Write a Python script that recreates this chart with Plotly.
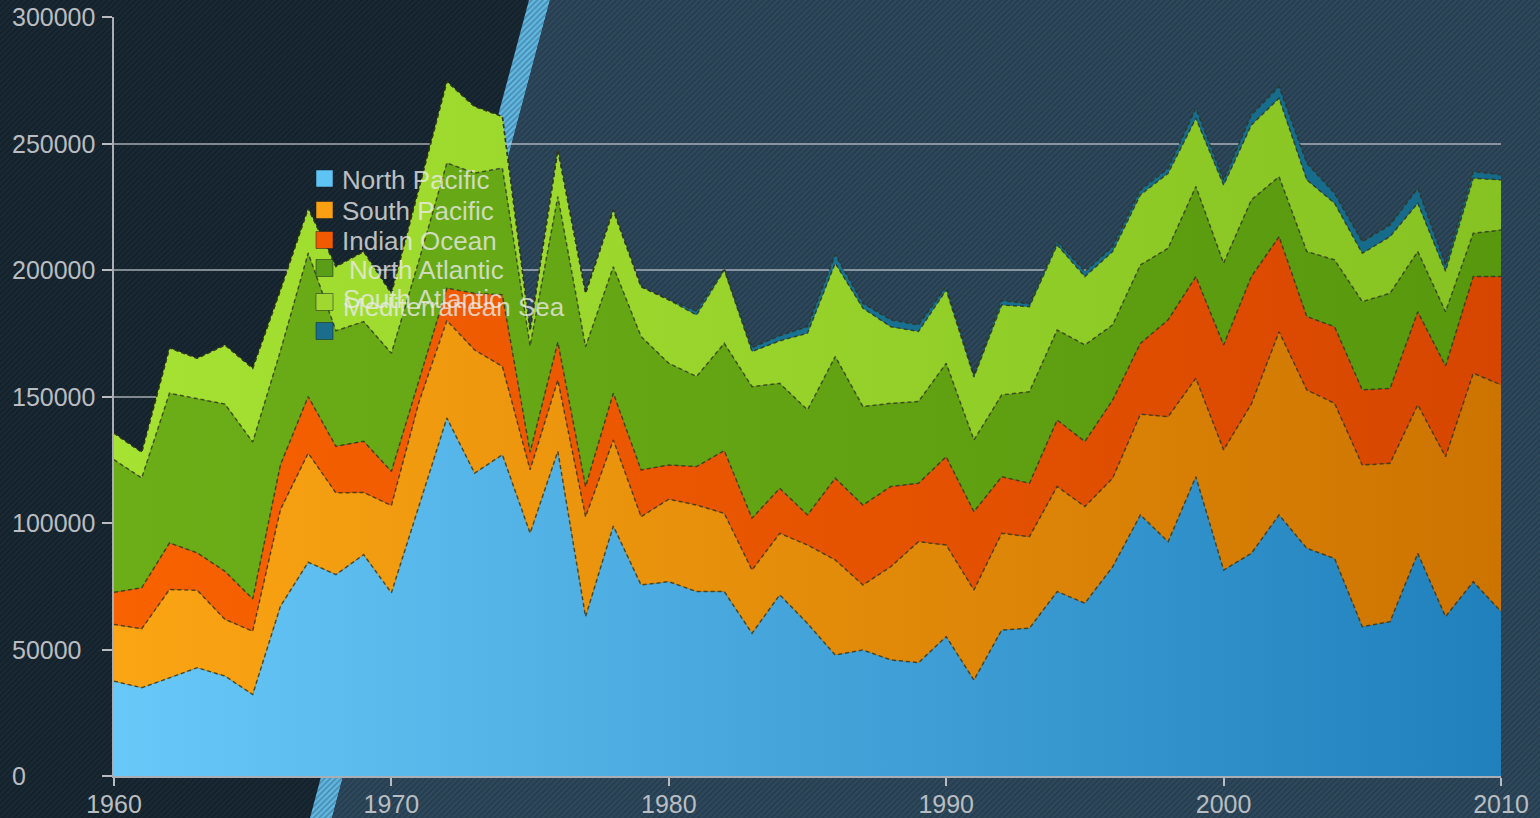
import plotly.graph_objects as go

W, H = 1540, 818

years = list(range(1960, 2011))

north_pacific = [37500, 34900, 38800, 42800, 39500, 32200, 67100, 84500, 79600, 87500,
                 72400, 107000, 141500, 119700, 127000, 96000, 128300, 63000, 98800, 75500,
                 76800, 72900, 72900, 56400, 71600, 60300, 47800, 49800, 45900, 44800,
                 55100, 37900, 57700, 58400, 72900, 68300, 82700, 103200, 92600, 118300,
                 81400, 88000, 103200, 90000, 86000, 59000, 61000, 88000, 63000, 76800,
                 65000]
south_pacific = [22400, 23300, 34900, 30600, 22400, 25000, 38200, 43100, 32300, 24600,
                 34500, 41000, 38500, 48700, 34900, 25000, 28200, 39500, 34000, 27000,
                 32600, 34200, 30900, 25000, 24300, 31000, 37600, 25700, 36800, 47800,
                 36200, 35600, 38200, 36200, 41500, 38200, 35000, 39800, 49400, 38900,
                 47500, 59000, 72400, 62600, 61300, 63900, 62600, 58700, 63200, 82400,
                 89600]
indian_ocean = [12700, 16200, 18400, 14800, 19000, 12800, 17700, 22400, 18400, 20200,
                13500, 9000, 12800, 22400, 28300, 7000, 15000, 11900, 18500, 18500,
                13500, 15200, 24800, 20500, 17800, 11900, 32300, 31600, 31700, 23100,
                34900, 31000, 22400, 21100, 26300, 25700, 30900, 28000, 38300, 40200,
                41500, 50400, 37600, 29000, 30300, 29700, 29600, 36800, 35900, 38200,
                42800]
north_atlantic = [52400, 43400, 59200, 61100, 66100, 62000, 45000, 56700, 45700, 47300,
                  46700, 47000, 49500, 47500, 50100, 42000, 57500, 55300, 50000, 52700,
                  40200, 35600, 42400, 52000, 41500, 41500, 48100, 38900, 32900, 32300,
                  36900, 28300, 32300, 36200, 35600, 38200, 29700, 31000, 28300, 35600,
                  32300, 30300, 23700, 25700, 26400, 34900, 37600, 23800, 21400, 17100,
                  18400]
south_atlantic = [10500, 10200, 17900, 15800, 23400, 29200, 24100, 17700, 25400, 27700,
                  23700, 29000, 32200, 26300, 20400, 6000, 18500, 21100, 22400, 19700,
                  25100, 24300, 29000, 13900, 16800, 30300, 36900, 38900, 30300, 27700,
                  29000, 24900, 35600, 33600, 33600, 27000, 29000, 27700, 29600, 27000,
                  30900, 29600, 31000, 28300, 22400, 19100, 22400, 19100, 16000, 21800,
                  19800]
mediterranean = [0, 0, 0, 0, 0, 0, 0, 0, 0, 0,
                 0, 0, 0, 0, 0, 0, 0, 0, 0, 0,
                 0, 1500, 500, 1500, 2000, 2600, 3300, 1900, 2700, 2600,
                 1300, 800, 1700, 1100, 1300, 2000, 1900, 1900, 2000, 3900,
                 2000, 4000, 4600, 6600, 3900, 4600, 4600, 5900, 2500, 2600,
                 2000]

series_names = ["North Pacific", "South Pacific", "Indian Ocean",
                "North Atlantic", "South Atlantic", "Mediterranean Sea"]
series_values = [north_pacific, south_pacific, indian_ocean,
                 north_atlantic, south_atlantic, mediterranean]
gradients = [("#68c8f8", "#2080bc"), ("#fba514", "#cc7400"), ("#f86200", "#d64600"),
             ("#6cae18", "#58980e"), ("#a6e232", "#86c222"), ("#1a7a9c", "#166a8a")]
swatch = ["#5ec4f4", "#f9a012", "#f05a00", "#5a9e18", "#a0d830", "#1a6e8c"]

y_ticks = [0, 50000, 100000, 150000, 200000, 250000, 300000]
x_ticks = [1960, 1970, 1980, 1990, 2000, 2010]

# plot area in pixels
PL, PR, PT, PB = 114, 1501, 17, 776

fig = go.Figure()

# ---- striped background (decorative, on a full-page pixel axis) ----
bg_regions = [
    ([0, 529, 310, 0], [0, 0, H, H], "#192934", "#0c161e"),
    ([529, 550, 332, 310], [0, 0, H, H], "#62b8e2", "#2a5c7a"),
    ([550, W, W, 332], [0, 0, H, H], "#2e495c", "#1a2e3d"),
]
for xs, ys, bgc, fgc in bg_regions:
    fig.add_trace(go.Scatter(
        x=xs + [xs[0]], y=ys + [ys[0]], xaxis="x", yaxis="y",
        mode="none", fill="toself", fillcolor=bgc,
        fillpattern=dict(shape="/", size=4, solidity=0.4, fgcolor=fgc, bgcolor=bgc),
        hoverinfo="skip", showlegend=False))

# ---- stacked areas ----
for name, vals, (c1, c2) in zip(series_names, series_values, gradients):
    fig.add_trace(go.Scatter(
        x=years, y=vals, name=name, xaxis="x2", yaxis="y2",
        stackgroup="one", mode="lines",
        line=dict(color="rgba(45,50,25,0.75)", width=1.5, dash="4px,3px"),
        fillgradient=dict(type="horizontal", colorscale=[[0, c1], [1, c2]]),
        showlegend=False))

tick_font = dict(family="Liberation Sans, Arial, sans-serif", size=25, color="#b9bdc1")

fig.update_layout(
    width=W, height=H, autosize=False,
    margin=dict(l=0, r=0, t=0, b=0, pad=0, autoexpand=False),
    paper_bgcolor="#192934",
    plot_bgcolor="rgba(0,0,0,0)",
    showlegend=False,
    xaxis=dict(domain=[0, 1], range=[0, W], visible=False, fixedrange=True,
               automargin=False),
    yaxis=dict(domain=[0, 1], range=[H, 0], visible=False, fixedrange=True,
               automargin=False),
    xaxis2=dict(domain=[PL / W, PR / W], range=[1960, 2010], anchor="y2",
                tickvals=x_ticks, ticks="outside", ticklen=8, tickwidth=2,
                tickcolor="#b8bcc0", showline=True, linecolor="#a8aeb4", linewidth=2,
                showgrid=False, zeroline=False, tickfont=tick_font, automargin=False,
                ticklabelstandoff=-3),
    yaxis2=dict(domain=[1 - PB / H, 1 - PT / H], range=[0, 300000], anchor="x2",
                tickvals=y_ticks, ticks="outside", ticklen=10, tickwidth=2,
                tickcolor="#b8bcc0", showline=True, linecolor="#a8aeb4", linewidth=2,
                showgrid=True, gridcolor="rgba(200,204,208,0.6)", gridwidth=2,
                zeroline=False, showticklabels=False, automargin=False),
)

# y tick labels, left aligned like the original
for v in y_ticks:
    fig.add_annotation(x=10 / W, xref="paper", y=v, yref="y2", text=str(v),
                       showarrow=False, xanchor="left", yanchor="middle",
                       font=tick_font)

# ---- hand-made legend (overlapping like the original) ----
leg_font = dict(family="Liberation Sans, Arial, sans-serif", size=26,
                color="rgba(235,235,235,0.78)")
sq_centers = [178.5, 210, 240, 268, 302, 331]
text_pos = [(340, 180), (340, 211), (340, 241), (347, 270), (341, 299), (341, 307)]
for name, col, cy, (tx, ty) in zip(series_names, swatch, sq_centers, text_pos):
    fig.add_shape(type="rect", xref="paper", yref="paper",
                  x0=316 / W, x1=333 / W, y0=1 - (cy + 8.5) / H, y1=1 - (cy - 8.5) / H,
                  fillcolor=col, line=dict(color="rgba(20,30,40,0.5)", width=1),
                  layer="above")
    fig.add_annotation(x=tx / W, xref="paper", y=1 - ty / H, yref="paper",
                       text=name, showarrow=False, xanchor="left", yanchor="middle",
                       font=leg_font)

fig.write_html("out.html",
               config={"displayModeBar": False},
               post_script="document.body.style.margin='0';"
                           "document.body.style.overflow='hidden';"
                           "document.body.style.background='#192934';")
